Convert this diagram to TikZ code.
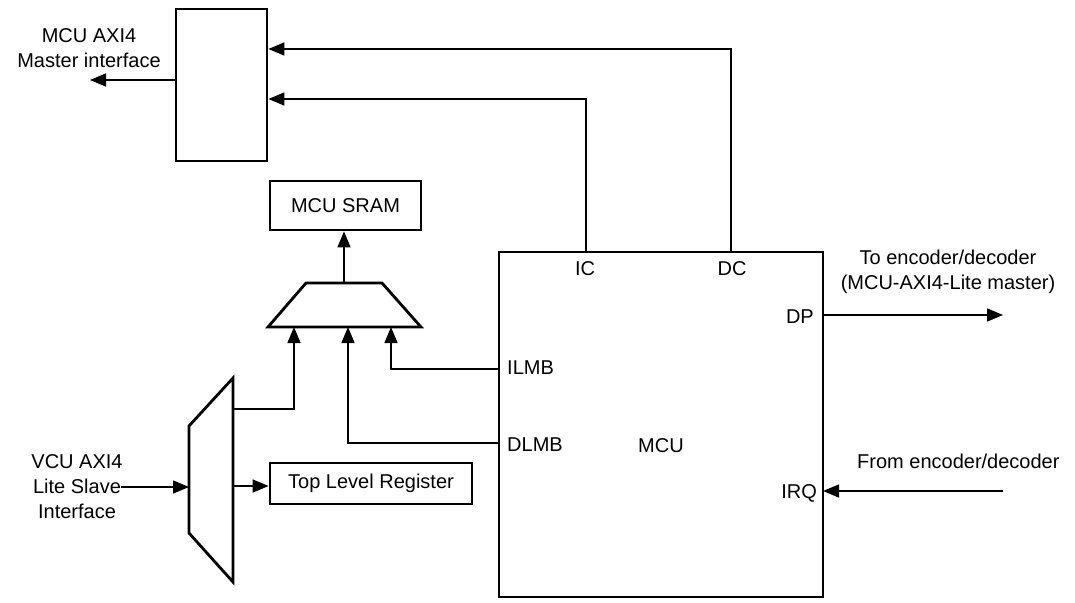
\documentclass[tikz,border=0pt]{standalone}
\usepackage{fontspec}
\setmainfont{Liberation Sans}
\usetikzlibrary{arrows.meta}
\begin{document}
\begin{tikzpicture}[x=1pt,y=-1pt,
  font=\fontsize{20}{25}\selectfont,
  blk/.style={draw=black,line width=2.8pt,inner sep=0pt},
  conn/.style={draw=black,line width=1.5pt},
  arr/.style={conn,-{Triangle[length=16pt,width=13pt]}},
  lbl/.style={inner sep=0pt,align=center}]
\useasboundingbox (0,0) rectangle (1075,602);
% blocks
\node[blk,minimum width=91pt,minimum height=152pt] (axim) at (221.5,85) {};
\node[blk,minimum width=151pt,minimum height=49pt] (sram) at (345.5,205.5) {MCU SRAM};
\node[blk,minimum width=202pt,minimum height=41pt] (tlr) at (371,483.5) {Top Level Register};
\node[blk,minimum width=324pt,minimum height=345pt] (mcu) at (661,424.5) {};
\node[lbl] (mculbl) at (661,446) {MCU};
% muxes
\coordinate (m1tl) at (306,283); \coordinate (m1tr) at (382,283);
\coordinate (m1br) at (421,327); \coordinate (m1bl) at (268,327);
\draw[line width=2.8pt,line join=miter] (m1tl) -- (m1tr) -- (m1br) -- (m1bl) -- cycle;
\coordinate (m2lt) at (189,426); \coordinate (m2rt) at (233,378);
\coordinate (m2rb) at (233,582); \coordinate (m2lb) at (189,533);
\draw[line width=2.8pt,line join=miter] (m2lt) -- (m2rt) -- (m2rb) -- (m2lb) -- cycle;
% port coordinates
\coordinate (icport) at (586,252);
\coordinate (dcport) at (731,252);
\coordinate (dpport) at (823,315);
\coordinate (irqport) at (823,491);
\coordinate (ilmbport) at (499,369);
\coordinate (dlmbport) at (499,443);
\coordinate (m1top) at (344,283);
\coordinate (m1in1) at (294,327);
\coordinate (m1in2) at (348,327);
\coordinate (m1in3) at (391,327);
\coordinate (m2out1) at (233,409);
\coordinate (m2out2) at (233,486);
\coordinate (m2in) at (189,487);
\coordinate (vcuend) at (121,487);
\coordinate (aximout) at (90,80);
\coordinate (dpend) at (1003,315);
\coordinate (irqstart) at (1003,491);
% connectors
\draw[arr] (dcport) |- (axim.east |- 0,49);
\draw[arr] (icport) |- (axim.east |- 0,99);
\draw[arr] (axim.west |- aximout) -- (aximout);
\draw[arr] (m1top) -- (sram.south -| m1top);
\draw[arr] (m2out1) -| (m1in1);
\draw[arr] (dlmbport) -| (m1in2);
\draw[arr] (ilmbport) -| (m1in3);
\draw[arr] (vcuend) -- (m2in);
\draw[arr] (m2out2) -- (tlr.west |- m2out2);
\draw[arr] (dpport) -- (dpend);
\draw[arr] (irqstart) -- (irqport);
% labels
\node[lbl] (aximlbl) at (89,48) {MCU AXI4\\Master interface};
\node[lbl] (vculbl) at (77,487) {VCU AXI4\\Lite Slave\\Interface};
\node[lbl] (tolbl) at (948,272) {To encoder/decoder\\(MCU-AXI4-Lite master)};
\node[lbl,anchor=west] (fromlbl) at (857,461) {From encoder/decoder};
\node[lbl] (iclbl) at (585,269) {IC};
\node[lbl] (dclbl) at (732,269) {DC};
\node[lbl,anchor=east] (dplbl) at (814,317) {DP};
\node[lbl,anchor=west] (ilmblbl) at (507,368) {ILMB};
\node[lbl,anchor=west] (dlmblbl) at (507,445) {DLMB};
\node[lbl,anchor=east] (irqlbl) at (817,493) {IRQ};
\end{tikzpicture}
\end{document}
